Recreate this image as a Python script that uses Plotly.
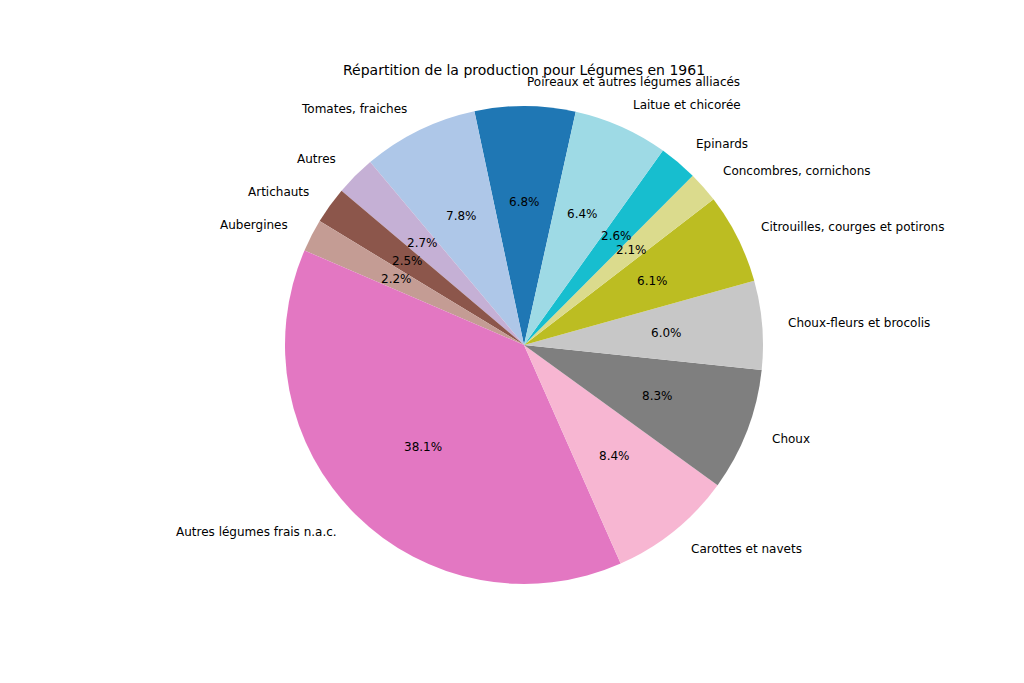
import numpy as np
import plotly.graph_objects as go

title = "Répartition de la production pour Légumes en 1961"
labels = ["Poireaux et autres légumes alliacés", "Tomates, fraiches", "Autres", "Artichauts",
          "Aubergines", "Autres légumes frais n.a.c.", "Carottes et navets", "Choux",
          "Choux-fleurs et brocolis", "Citrouilles, courges et potirons",
          "Concombres, cornichons", "Epinards", "Laitue et chicorée"]
values = [6.8, 7.8, 2.7, 2.5, 2.2, 38.1, 8.4, 8.3, 6.0, 6.1, 2.1, 2.6, 6.4]
colors = ["#1f77b4", "#aec7e8", "#c5b0d5", "#8c564b", "#c49c94", "#e377c2", "#f7b6d2",
          "#7f7f7f", "#c7c7c7", "#bcbd22", "#dbdb8d", "#17becf", "#9edae5"]

W, H = 1024, 683
off = 8  # page body margin
cx, cy, R = 524 - off, 345 - off, 239
start_deg = 77.5

vals = np.array(values, dtype=float)
frac = vals / vals.sum()

fig = go.Figure()
fig.add_trace(go.Pie(
    labels=labels, values=values, sort=False, direction="counterclockwise",
    rotation=90 - start_deg - 360 * frac[0], marker=dict(colors=colors, line=dict(width=0)),
    textinfo="none", showlegend=False, hoverinfo="label+percent",
    domain=dict(x=[(cx - R) / W, (cx + R) / W], y=[(H - cy - R) / H, (H - cy + R) / H]),
))

cum = np.concatenate([[0], np.cumsum(frac)])
mid = np.deg2rad(start_deg + 360 * (cum[:-1] + cum[1:]) / 2)

font = dict(family="DejaVu Sans", size=12, color="black")
for lab, f, th in zip(labels, frac, mid):
    lx = cx + 1.1 * R * np.cos(th)
    ly = cy - 1.1 * R * np.sin(th)
    fig.add_annotation(x=lx / W, y=1 - ly / H, xref="paper", yref="paper", text=lab,
                       showarrow=False, xanchor="left" if np.cos(th) > 0 else "right",
                       yanchor="middle", font=font)
    px = cx + 0.6 * R * np.cos(th)
    py = cy - 0.6 * R * np.sin(th)
    fig.add_annotation(x=px / W, y=1 - py / H, xref="paper", yref="paper",
                       text=f"{f*100:.1f}%", showarrow=False, xanchor="center",
                       yanchor="middle", font=font)

fig.update_layout(
    width=W, height=H, margin=dict(l=0, r=0, t=0, b=0),
    paper_bgcolor="white", plot_bgcolor="white",
    title=dict(text=title, x=cx / W, xanchor="center", y=1 - (70 - off) / H, yanchor="middle",
               font=dict(family="DejaVu Sans", size=14, color="black")),
)
fig.write_html("out.html")
